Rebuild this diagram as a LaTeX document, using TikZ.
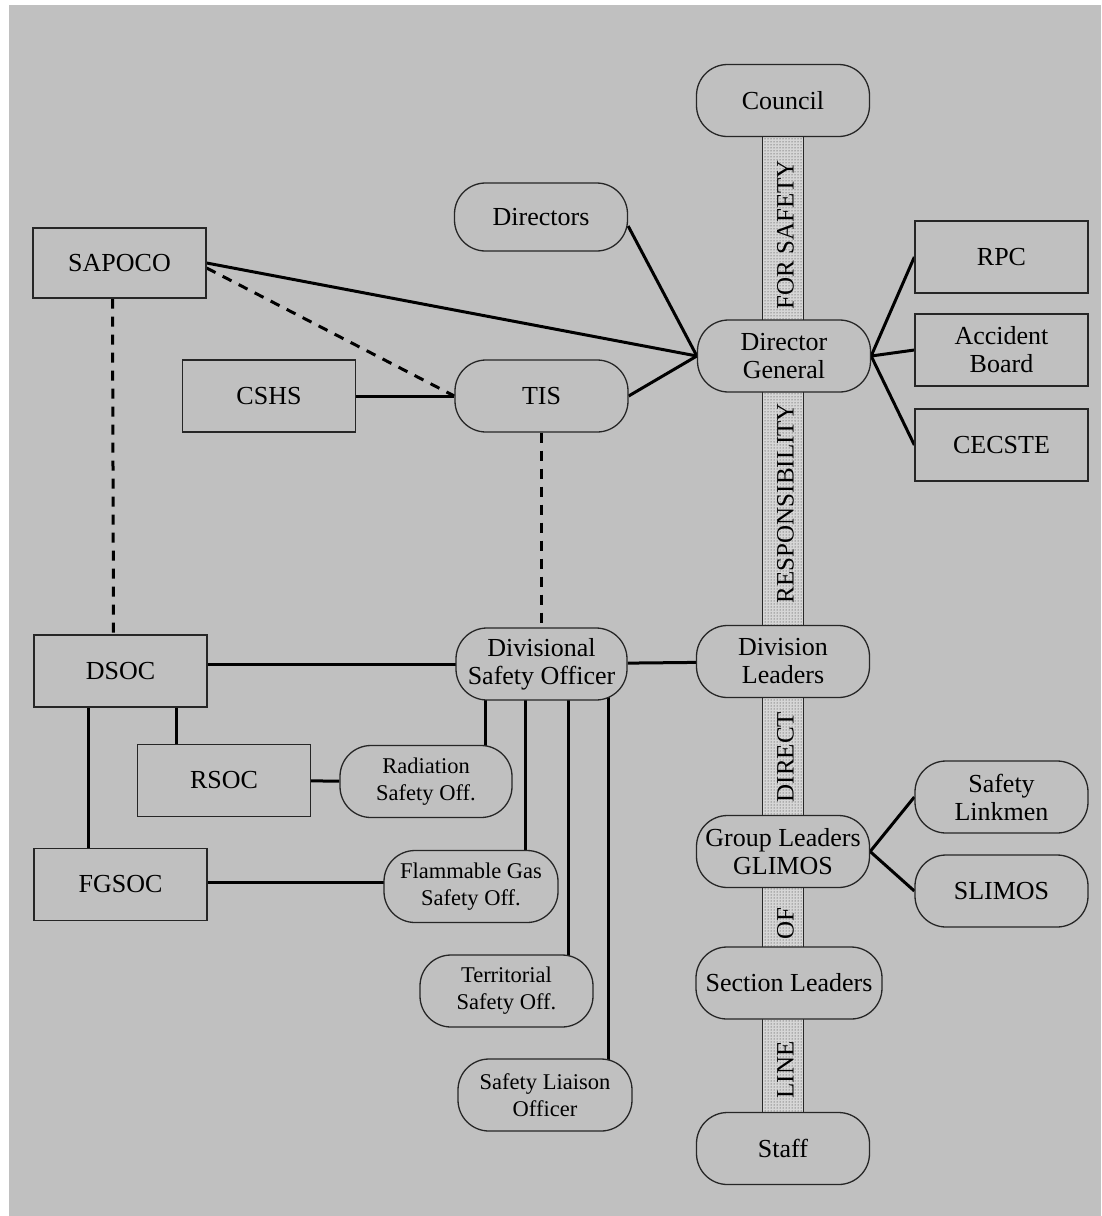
\documentclass[tikz,border=0pt]{standalone}
\usepackage{fontspec}
\setmainfont{Liberation Serif}
\usetikzlibrary{backgrounds,patterns}
\definecolor{panelgray}{HTML}{C0C0C0}
\definecolor{barfill}{HTML}{D6D6D6}
\tikzset{
  unit/.style={draw=black!85,line width=1.3pt,fill=panelgray,align=center,inner sep=2pt,
    minimum width=173pt,minimum height=72pt},
  board/.style={unit},
  officer/.style={unit,rounded corners=31pt},
  link/.style={line width=3pt,draw=black},
  dashlink/.style={link,dash pattern=on 10pt off 8pt},
}

\begin{document}
\begin{tikzpicture}[x=1pt,y=-1pt]
    \pgfmathsetmacro{\pagewidth}{1101}
    \pgfmathsetmacro{\pageheight}{1216}
    \pgfmathsetmacro{\barhalf}{20.5}
    \providecommand{\mainsize}{\fontsize{26}{28}\selectfont}
    \providecommand{\smallsize}{\fontsize{22.5}{27}\selectfont}
    \providecommand{\barsize}{\fontsize{25}{25}\selectfont}
    \useasboundingbox (0,0) rectangle (\pagewidth,\pageheight);
    % line of direct responsibility
    \node[officer,font=\mainsize] (council) at (783,100.5) {Council};
    \node[officer,font=\mainsize] (dg) at (784,356) {Director\\General};
    \node[officer,font=\mainsize] (divlead) at (783,661.5) {Division\\Leaders};
    \node[officer,font=\mainsize] (glimos) at (783,851.5) {Group Leaders\\GLIMOS};
    \node[officer,font=\mainsize,minimum width=186pt] (section) at (789,983) {Section Leaders};
    \node[officer,font=\mainsize] (staff) at (783,1148.5) {Staff};
    % around the director general
    \node[officer,font=\mainsize,minimum height=68pt] (directors) at (541,217) {Directors};
    \node[board,font=\mainsize,minimum height=70pt] (sapoco) at (119.5,263) {SAPOCO};
    \node[board,font=\mainsize] (cshs) at (269,396) {CSHS};
    \node[officer,font=\mainsize] (tis) at (541.5,396) {TIS};
    \node[board,font=\mainsize] (rpc) at (1001.5,257) {RPC};
    \node[board,font=\mainsize] (accident) at (1001.5,350) {Accident\\Board};
    \node[board,font=\mainsize] (cecste) at (1001.5,445) {CECSTE};
    % divisional level
    \node[board,font=\mainsize] (dsoc) at (120.5,671) {DSOC};
    \node[board,font=\mainsize] (rsoc) at (224,780.5) {RSOC};
    \node[board,font=\mainsize] (fgsoc) at (120.5,884.5) {FGSOC};
    \node[officer,font=\mainsize,minimum width=171pt] (divso) at (541.5,664) {Divisional\\Safety Officer};
    \node[officer,font=\smallsize,minimum width=172pt] (radiation) at (426,781.5) {Radiation\\Safety Off.};
    \node[officer,font=\smallsize,minimum width=174pt] (flammable) at (471,886.5) {Flammable Gas\\Safety Off.};
    \node[officer,font=\smallsize] (territorial) at (506.5,991) {Territorial\\Safety Off.};
    \node[officer,font=\smallsize,minimum width=174pt] (liaison) at (545,1095) {Safety Liaison\\Officer};
    \node[officer,font=\mainsize] (linkmen) at (1001.5,797) {Safety\\Linkmen};
    \node[officer,font=\mainsize] (slimos) at (1001.5,891) {SLIMOS};
    \begin{scope}[on background layer]
        \fill[white] (0,0) rectangle (\pagewidth,\pageheight);
        \fill[panelgray] (9,5) rectangle (\pagewidth,\pageheight);
        \draw[line width=1.2pt,draw=black!85,fill=barfill] ([xshift=-\barhalf pt]council.center) rectangle ([xshift=\barhalf pt]staff.center);
        \fill[pattern=dots,pattern color=black!85] ([xshift=-\barhalf pt]council.center) rectangle ([xshift=\barhalf pt]staff.center);
        % connectors
        \draw[link] (sapoco.east) -- (dg.west);
        \draw[link] ([yshift=-9pt]directors.east) -- (dg.west);
        \draw[link] (tis.east) -- (dg.west);
        \draw[dashlink] ([yshift=-5pt]sapoco.east) -- (tis.west);
        \draw[link] (cshs) -- (tis);
        \draw[dashlink] (tis.south) -- (divso.north);
        \draw[dashlink] ([xshift=-7pt]sapoco.south) -- ([xshift=-7pt]dsoc.north);
        \draw[link] (dg.east) -- (rpc.west);
        \draw[link] (dg.east) -- (accident.west);
        \draw[link] (dg.east) -- (cecste.west);
        \draw[link] (divso.center) -- (divso.center -| dsoc.center);
        \draw[link] (divso) -- (divlead);
        \draw[link] ([xshift=-32.5pt]dsoc.center) -- ([xshift=-32.5pt]dsoc.center |- fgsoc.center);
        \draw[link] ([xshift=55.5pt]dsoc.center) -- ([xshift=55.5pt]dsoc.center |- rsoc.center);
        \draw[link] (rsoc) -- (radiation);
        \draw[link] ([yshift=4pt]flammable.center) -- ([yshift=4pt]flammable.center -| fgsoc.center);
        \draw[link] ([xshift=-56.5pt]divso.center) -- ([xshift=-56.5pt]divso.center |- radiation.center);
        \draw[link] ([xshift=-16.5pt]divso.center) -- ([xshift=-16.5pt]divso.center |- flammable.center);
        \draw[link] ([xshift=26.5pt]divso.center) -- ([xshift=26.5pt]divso.center |- territorial.center);
        \draw[link] ([xshift=66.5pt]divso.center) -- ([xshift=66.5pt]divso.center |- liaison.center);
        \draw[link] (glimos.east) -- (linkmen.west);
        \draw[link] (glimos.east) -- (slimos.west);
    \end{scope}
    % text on the bar
    \node[rotate=90,font=\barsize,inner sep=0] (forsafety) at (785.5,235) {FOR SAFETY};
    \node[rotate=90,font=\barsize,inner sep=0] (responsibility) at (785.5,503) {RESPONSIBILITY};
    \node[rotate=90,font=\barsize,inner sep=0] (direct) at (785.5,757) {DIRECT};
    \node[rotate=90,font=\barsize,inner sep=0] (of) at (785.5,924) {OF};
    \node[rotate=90,font=\barsize,inner sep=0] (line) at (785.5,1070) {LINE};
\end{tikzpicture}
\end{document}
